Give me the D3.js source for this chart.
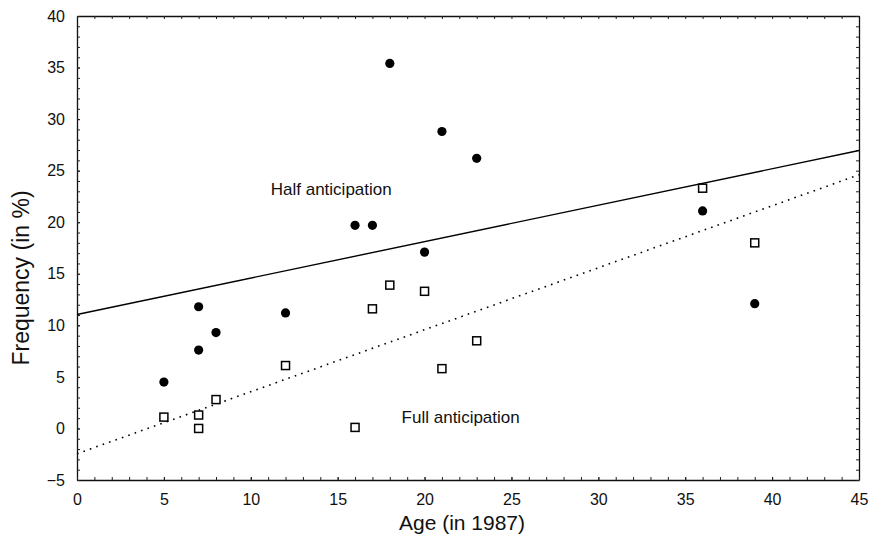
<!DOCTYPE html>
<html>
<head>
<meta charset="utf-8">
<script src="https://cdn.jsdelivr.net/npm/d3@7"></script>
<style>
  body { margin: 0; background: #fff; }
  svg { display: block; font-family: "Liberation Sans", Arial, Helvetica, sans-serif; }
</style>
</head>
<body>
<svg id="chart"></svg>
<script>
// ages (in 1987) and frequencies (%)
const halfAge  = [5, 7, 7, 8, 12, 16, 17, 18, 20, 21, 23, 36, 39];
const halfFreq = [4.5, 11.8, 7.6, 9.3, 11.2, 19.7, 19.7, 35.4, 17.1, 28.8, 26.2, 21.1, 12.1];
const fullAge  = [5, 7, 7, 8, 12, 16, 17, 18, 20, 21, 23, 36, 39];
const fullFreq = [1.1, 1.3, 0, 2.8, 6.1, 0.1, 11.6, 13.9, 13.3, 5.8, 8.5, 23.3, 18.0];

// fitted lines, endpoints at age 0 and 45
const halfFit = [[0, 11.05], [45, 26.95]];
const fullFit = [[0, -2.45], [45, 24.6]];

const xTicks = [0, 5, 10, 15, 20, 25, 30, 35, 40, 45];
const yTicks = [-5, 0, 5, 10, 15, 20, 25, 30, 35, 40];

const width = 872, height = 547;
const margin = {top: 16, right: 13, bottom: 67, left: 77};

const svg = d3.select("#chart")
  .attr("width", width)
  .attr("height", height);

const x = d3.scaleLinear([0, 45], [margin.left, width - margin.right]);
const y = d3.scaleLinear([-5, 40], [height - margin.bottom, margin.top]);

// minor ticks on all four sides, pointing inward
const minorX = d3.range(0, 46, 1);
const minorY = d3.range(-5, 41, 1);

svg.append("g")
   .attr("transform", `translate(0,${y(-5)})`)
   .call(d3.axisBottom(x).tickValues(minorX).tickSize(-3).tickSizeOuter(0).tickFormat(""));
svg.append("g")
   .attr("transform", `translate(0,${y(40)})`)
   .call(d3.axisTop(x).tickValues(minorX).tickSize(-3).tickSizeOuter(0).tickFormat(""));
svg.append("g")
   .attr("transform", `translate(${x(0)},0)`)
   .call(d3.axisLeft(y).tickValues(minorY).tickSize(-3).tickSizeOuter(0).tickFormat(""));
svg.append("g")
   .attr("transform", `translate(${x(45)},0)`)
   .call(d3.axisRight(y).tickValues(minorY).tickSize(-3).tickSizeOuter(0).tickFormat(""));

// labelled axes
svg.append("g")
   .attr("transform", `translate(0,${y(-5)})`)
   .call(d3.axisBottom(x).tickValues(xTicks).tickSize(-3).tickSizeOuter(0).tickPadding(14))
   .call(g => g.select(".domain").remove());
svg.append("g")
   .attr("transform", `translate(${x(0)},0)`)
   .call(d3.axisLeft(y).tickValues(yTicks).tickSize(-3).tickSizeOuter(0).tickPadding(12))
   .call(g => g.select(".domain").remove());

svg.selectAll(".tick text")
   .attr("font-size", 16)
   .attr("font-family", "Liberation Sans, Arial, sans-serif")
   .attr("fill", "#111");
svg.selectAll(".domain").attr("stroke", "#111").attr("stroke-width", 1.3);
svg.selectAll(".tick line").attr("stroke", "#222");

// axis titles
svg.append("text")
   .attr("x", (x(0) + x(45)) / 2 - 6)
   .attr("y", 530)
   .attr("text-anchor", "middle")
   .attr("font-size", 21)
   .attr("fill", "#111")
   .text("Age (in 1987)");

svg.append("text")
   .attr("transform", `translate(29,278) rotate(-90)`)
   .attr("text-anchor", "middle")
   .attr("font-size", 23)
   .attr("fill", "#111")
   .text("Frequency (in %)");

// fitted lines
const line = d3.line().x(d => x(d[0])).y(d => y(d[1]));

svg.append("path")
   .attr("d", line(halfFit))
   .attr("fill", "none")
   .attr("stroke", "#000")
   .attr("stroke-width", 1.4);

svg.append("path")
   .attr("d", line(fullFit))
   .attr("fill", "none")
   .attr("stroke", "#000")
   .attr("stroke-width", 1.6)
   .attr("stroke-dasharray", "1.6,5.2");

// half anticipation: filled circles
svg.append("g")
   .selectAll("circle")
   .data(d3.range(halfAge.length))
   .join("circle")
   .attr("cx", i => x(halfAge[i]))
   .attr("cy", i => y(halfFreq[i]))
   .attr("r", 4.6)
   .attr("fill", "#000");

// full anticipation: open squares
const s = 8;
svg.append("g")
   .selectAll("rect")
   .data(d3.range(fullAge.length))
   .join("rect")
   .attr("x", i => x(fullAge[i]) - s / 2)
   .attr("y", i => y(fullFreq[i]) - s / 2)
   .attr("width", s)
   .attr("height", s)
   .attr("fill", "#fff")
   .attr("stroke", "#000")
   .attr("stroke-width", 1.5);

// in-plot labels (positions in data units)
const notes = [
  {text: "Half anticipation", at: [11.15, 22.66]},
  {text: "Full anticipation", at: [18.68, 0.51]}
];
svg.append("g")
   .selectAll("text")
   .data(notes)
   .join("text")
   .attr("x", d => x(d.at[0]))
   .attr("y", d => y(d.at[1]))
   .attr("font-size", 17)
   .attr("fill", "#111")
   .text(d => d.text);
</script>
</body>
</html>
